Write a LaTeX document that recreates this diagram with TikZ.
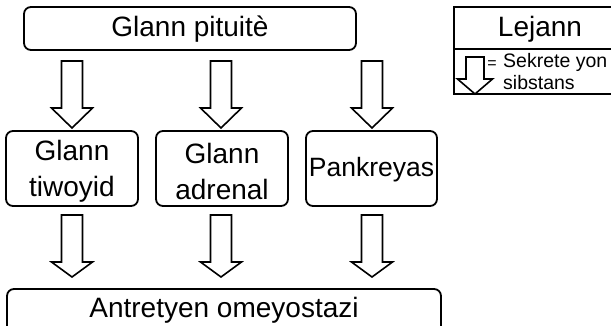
\documentclass[tikz,border=0pt]{standalone}
\usepackage{fontspec}
\setmainfont{Liberation Sans}
\begin{document}
\begin{tikzpicture}[x=1pt,y=-1pt,
  box/.style={draw,line width=1.8pt,rounded corners=7pt},
  bigtext/.style={font=\fontsize{28}{36}\selectfont,align=center,inner sep=0pt},
  smalltext/.style={font=\fontsize{19.5}{21}\selectfont,align=left,inner sep=0pt,anchor=west},
  harrow/.style={draw,line width=1.6pt,line join=miter,fill=white}]
\useasboundingbox (0,0) rectangle (611,325);
\clip (0,0) rectangle (611,325);
\newcommand\hollowarrow[6]{%
  \draw[harrow] (#1-#5,#2) -- (#1+#5,#2) -- (#1+#5,#3) -- (#1+#6,#3) -- (#1,#4)
     -- (#1-#6,#3) -- (#1-#5,#3) -- cycle;}
% top box
\draw[box] (24,7) rectangle (356,50);
\node[bigtext] (pit) at (190,29) {Glann pituitè};
% row 1 arrows
\hollowarrow{72}{61}{108}{128}{10.5}{20.5}
\hollowarrow{221}{61}{108}{128}{10.5}{20.5}
\hollowarrow{372}{61}{108}{128}{10.5}{20.5}
% middle boxes
\draw[box] (6,131) rectangle (138,206);
\node[bigtext] (tiw) at (72,171) {Glann\\tiwoyid};
\draw[box] (156,131) rectangle (288,206);
\node[bigtext] (adr) at (222,171) {Glann\\adrenal};
\draw[box] (306,131) rectangle (437,206);
\node[bigtext,font=\fontsize{26.5}{34}\selectfont] (pan) at (371.5,170) {Pankreyas};
% row 2 arrows
\hollowarrow{72}{215}{262}{277}{10.5}{20.5}
\hollowarrow{221}{215}{262}{277}{10.5}{20.5}
\hollowarrow{372}{215}{262}{277}{10.5}{20.5}
% bottom box
\draw[box] (7,289) rectangle (441,345);
\node[bigtext] (hom) at (224,310) {Antretyen omeyostazi};
% legend
\draw[line width=1.8pt] (454,7) rectangle (625,94);
\draw[line width=1.8pt] (454,49) -- (625,49);
\node[bigtext] (lej) at (540,29) {Lejann};
\hollowarrow{475}{57}{79}{94}{9}{17.5}
\node[font=\fontsize{16}{16}\selectfont,inner sep=0pt] (eq) at (492,65) {=};
\node[smalltext] (sek) at (503,62) {Sekrete yon};
\node[smalltext] (sib) at (503,83) {sibstans};
\end{tikzpicture}
\end{document}
